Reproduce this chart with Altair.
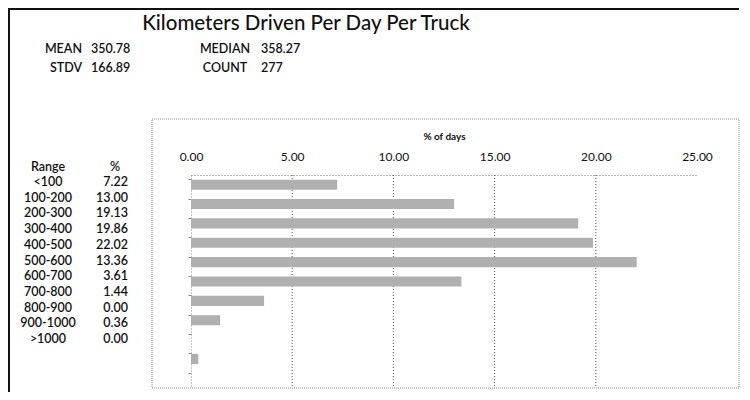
import altair as alt
import pandas as pd

# ---- data ----
ranges = ["<100", "100-200", "200-300", "300-400", "400-500", "500-600",
          "600-700", "700-800", "800-900", "900-1000", ">1000"]
pcts = [7.22, 13.00, 19.13, 19.86, 22.02, 13.36, 3.61, 1.44, 0.00, 0.36, 0.00]
x_ticks = [0, 5, 10, 15, 20, 25]
grid_vals = [5, 10, 15, 20]

title_text = "Kilometers Driven Per Day Per Truck"
stat_left_labels = ["MEAN", "STDV"]
stat_left_values = ["350.78", "166.89"]
stat_right_labels = ["MEDIAN", "COUNT"]
stat_right_values = ["358.27", "277"]

FONT = "Lato"
TXT = "#111111"
W = 600

df = pd.DataFrame({"range": ranges, "pct": pcts,
                   "pct_txt": [f"{v:.2f}" for v in pcts]})
one = pd.DataFrame({"a": [0]})

# bars
bars = alt.Chart(df).mark_bar(color="#b0b0b0").encode(
    x=alt.X("pct:Q",
            scale=alt.Scale(domain=[0, 25], nice=False, zero=True),
            axis=alt.Axis(orient="top", values=x_ticks, format=".2f",
                          grid=False, ticks=False, domain=True,
                          domainColor="#666", domainDash=[1, 2],
                          labelFont=FONT, labelFontSize=12, labelColor=TXT,
                          labelPadding=12, labelOverlap=False, labelFlush=False,
                          title="% of days", titleFont=FONT, titleFontSize=10,
                          titleFontWeight="bold", titleColor=TXT, titlePadding=9)),
    y=alt.Y("range:N", sort=ranges,
            scale=alt.Scale(paddingInner=0.48, paddingOuter=0.24),
            axis=alt.Axis(labels=False, title=None, ticks=True, tickSize=3,
                          tickColor="#888", bandPosition=0,
                          domain=True, domainColor="#888", domainDash=[1, 2])),
)

# vertical gridlines (none drawn at 25 in the reference)
grid = alt.Chart(pd.DataFrame({"g": grid_vals})).mark_rule(
    color="#555", strokeDash=[1, 2], strokeWidth=1
).encode(x="g:Q")

# dotted chart frame
frame = alt.Chart(one).mark_rect(
    fill=None, stroke="#888", strokeDash=[1, 1], strokeWidth=1
).encode(x=alt.value(-39), x2=alt.value(548), y=alt.value(-56), y2=alt.value(213))

# outer solid page frame (top & left)
top_line = alt.Chart(one).mark_rule(color="#111", strokeWidth=2).encode(
    x=alt.value(-183), x2=alt.value(548), y=alt.value(-166))
left_line = alt.Chart(one).mark_rule(color="#111", strokeWidth=2).encode(
    x=alt.value(-182), y=alt.value(-166), y2=alt.value(217))

# title
title = alt.Chart(pd.DataFrame({"t": [title_text]})).mark_text(
    font=FONT, fontSize=20.5, fontWeight=500, color=TXT, align="center", baseline="middle"
).encode(text="t:N", x=alt.value(115), y=alt.value(-151))

# stats
sl = pd.DataFrame({"lab": stat_left_labels, "val": stat_left_values, "row": [0, 1]})
sr = pd.DataFrame({"lab": stat_right_labels, "val": stat_right_values, "row": [0, 1]})
row_scale = alt.Scale(domain=[0, 1], range=[-126, -107])

def stat_text(d, field, x, align):
    return alt.Chart(d).mark_text(
        font=FONT, fontSize=12.5, fontWeight=W, color=TXT, align=align, baseline="middle"
    ).encode(text=f"{field}:N", x=alt.value(x),
             y=alt.Y("row:Q", scale=row_scale, axis=None))

s1 = stat_text(sl, "lab", -109, "right")
s2 = stat_text(sl, "val", -100, "left")
s3 = stat_text(sr, "lab", 34, "center")
s4 = stat_text(sr, "val", 70, "left")

# table on the left
headers = alt.Chart(pd.DataFrame({"h": ["Range"]})).mark_text(
    font=FONT, fontSize=12.5, fontWeight=W, color=TXT, align="center", baseline="middle"
).encode(text="h:N", x=alt.value(-143), y=alt.value(-8))
headers2 = alt.Chart(pd.DataFrame({"h": ["%"]})).mark_text(
    font=FONT, fontSize=12.5, fontWeight=W, color=TXT, align="center", baseline="middle"
).encode(text="h:N", x=alt.value(-76), y=alt.value(-8))

tbl_scale = alt.Scale(type="point", range=[7, 164], padding=0)
tbl_range = alt.Chart(df).mark_text(
    font=FONT, fontSize=12.5, fontWeight=W, color=TXT, align="center", baseline="middle"
).encode(text="range:N", x=alt.value(-143),
         y=alt.Y("range:N", sort=ranges, scale=tbl_scale, axis=None))
tbl_pct = alt.Chart(df).mark_text(
    font=FONT, fontSize=12.5, fontWeight=W, color=TXT, align="right", baseline="middle"
).encode(text="pct_txt:N", x=alt.value(-63),
         y=alt.Y("range:N", sort=ranges, scale=tbl_scale, axis=None))

table = alt.layer(headers, headers2, tbl_range, tbl_pct)
stats = alt.layer(s1, s2, s3, s4)

chart = alt.layer(
    frame, grid, bars, top_line, left_line, title, stats, table
).resolve_scale(y="independent").properties(
    width=506, height=213,
    padding={"left": 183, "top": 167, "right": 45, "bottom": 4},
    autosize=alt.AutoSizeParams(type="none"),
    background="white",
).configure_view(stroke=None)

chart.save("out.html", embed_options={"renderer": "svg", "actions": False})
